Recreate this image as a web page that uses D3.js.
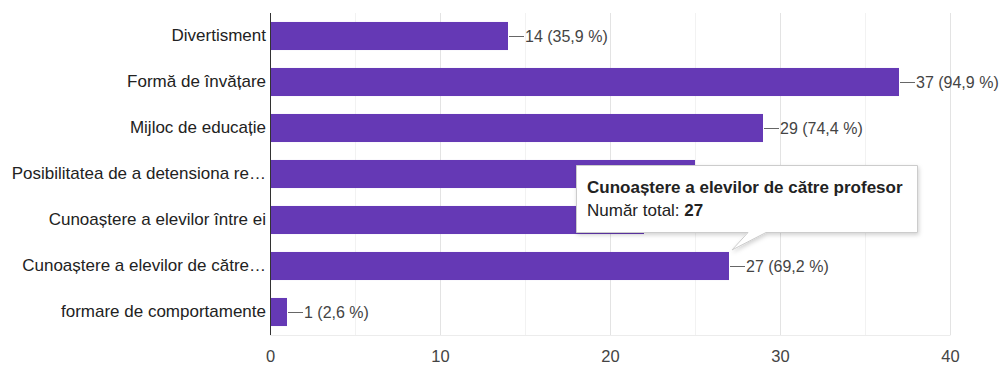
<!DOCTYPE html>
<html>
<head>
<meta charset="utf-8">
<script src="https://cdn.jsdelivr.net/npm/d3@7"></script>
<style>
  html, body { margin: 0; padding: 0; background: #fff; }
  svg { display: block; font-family: "Liberation Sans", Arial, sans-serif; }
</style>
</head>
<body>
<svg id="chart" width="1006" height="365"></svg>
<script>
// Answers to the survey question (39 respondents)
const categories = [
  "Divertisment",
  "Formă de învățare",
  "Mijloc de educație",
  "Posibilitatea de a detensiona re…",
  "Cunoaștere a elevilor între ei",
  "Cunoaștere a elevilor de către…",
  "formare de comportamente"
];
const fullNames = [
  "Divertisment",
  "Formă de învățare",
  "Mijloc de educație",
  "Posibilitatea de a detensiona relațiile",
  "Cunoaștere a elevilor între ei",
  "Cunoaștere a elevilor de către profesor",
  "formare de comportamente"
];
const counts = [14, 37, 29, 25, 22, 27, 1];
const totalRespondents = 39;
const xTicks = [0, 10, 20, 30, 40];
const minorTicks = [5, 15, 25, 35];
const hoveredIndex = 5;

const svg = d3.select("#chart");
const margin = { left: 270, right: 56, top: 13, bottom: 30 };
const W = 1006, H = 365;

const x = d3.scaleLinear().domain([0, 40]).range([margin.left, W - margin.right]);
const y = d3.scaleBand().domain(categories).range([margin.top, H - margin.bottom]).paddingInner(0.39).paddingOuter(0.195);

const fmtPct = v => (v / totalRespondents * 100).toFixed(1).replace(".", ",") + " %";

// tooltip box geometry (used to skip annotations it covers)
const box = { x: 576, y: 165, w: 341, h: 67 };

// grid
const grid = svg.append("g");
grid.selectAll("line.minor").data(minorTicks).join("line")
  .attr("class", "minor")
  .attr("x1", d => x(d) + 0.5).attr("x2", d => x(d) + 0.5)
  .attr("y1", margin.top).attr("y2", H - margin.bottom)
  .attr("stroke", "#f2f2f2");
grid.selectAll("line.major").data(xTicks.slice(1)).join("line")
  .attr("class", "major")
  .attr("x1", d => x(d) + 0.5).attr("x2", d => x(d) + 0.5)
  .attr("y1", margin.top).attr("y2", H - margin.bottom)
  .attr("stroke", "#e3e3e3");
grid.append("line")
  .attr("x1", margin.left).attr("x2", x(40) + 0.5)
  .attr("y1", H - margin.bottom + 0.5).attr("y2", H - margin.bottom + 0.5)
  .attr("stroke", "#ececec");

// bottom axis labels
const xAxis = d3.axisBottom(x).tickValues(xTicks).tickSize(0).tickPadding(15);
const gx = svg.append("g").attr("transform", `translate(0,${H - margin.bottom})`).call(xAxis);
gx.select(".domain").remove();
gx.selectAll("text").attr("font-size", 16.5).attr("fill", "#444").attr("font-family", "Liberation Sans, Arial, sans-serif");

// bars
svg.append("g").selectAll("rect").data(counts).join("rect")
  .attr("x", x(0))
  .attr("y", (d, i) => y(categories[i]))
  .attr("width", d => x(d) - x(0))
  .attr("height", y.bandwidth())
  .attr("fill", "#6539b5");

// value annotations with leader lines (those under the tooltip are not visible)
const visible = counts.map((d, i) => {
  const cy = y(categories[i]) + y.bandwidth() / 2;
  const cx = x(d);
  return !(cx > box.x - 100 && cx < box.x + box.w && cy > box.y && cy < box.y + box.h);
});
const ann = svg.append("g").selectAll("g").data(counts.map((d, i) => ({ d, i })).filter(o => visible[o.i])).join("g")
  .attr("transform", o => `translate(${x(o.d)},${y(categories[o.i]) + y.bandwidth() / 2})`);
ann.append("line").attr("x1", 1).attr("x2", 16).attr("y1", 0.5).attr("y2", 0.5).attr("stroke", "#666");
ann.append("text").attr("x", 17).attr("dy", "0.36em")
  .attr("font-size", 16).attr("fill", "#444")
  .text(o => `${o.d} (${fmtPct(o.d)})`);

// left axis
const yAxis = d3.axisLeft(y).tickSize(0).tickPadding(4);
const gy = svg.append("g").attr("transform", `translate(${margin.left},0)`).call(yAxis);
gy.select(".domain").attr("stroke", "#333").attr("d", `M0.5,${margin.top}V${H - margin.bottom}`);
gy.selectAll("text").attr("font-size", 17).attr("fill", "#222").attr("font-family", "Liberation Sans, Arial, sans-serif");

// tooltip for the hovered bar
const hv = counts[hoveredIndex];
const tipX = x(hv) + 3, tipY = y(categories[hoveredIndex]) - 2;
const defs = svg.append("defs");
const f = defs.append("filter").attr("id", "sh").attr("x", "-10%").attr("y", "-20%").attr("width", "130%").attr("height", "150%");
f.append("feDropShadow").attr("dx", 1).attr("dy", 2).attr("stdDeviation", 2).attr("flood-color", "#000").attr("flood-opacity", 0.18);
const tip = svg.append("g");
const bx0 = box.x + 0.5, by0 = box.y + 0.5, bx1 = box.x + box.w + 0.5, by1 = box.y + box.h + 0.5;
const path = `M${bx0},${by0}H${bx1}V${by1}H${tipX + 34}L${tipX},${tipY}L${tipX + 16},${by1}H${bx0}Z`;
tip.append("path").attr("d", path).attr("fill", "#fff").attr("stroke", "#ccc").attr("filter", "url(#sh)");
tip.append("text").attr("x", box.x + 11).attr("y", box.y + 28)
  .attr("font-size", 17).attr("font-weight", "bold").attr("fill", "#222")
  .text(fullNames[hoveredIndex]);
const t2 = tip.append("text").attr("x", box.x + 11).attr("y", box.y + 51)
  .attr("font-size", 17).attr("fill", "#222");
t2.append("tspan").text("Număr total: ");
t2.append("tspan").attr("font-weight", "bold").text(hv);
</script>
</body>
</html>
